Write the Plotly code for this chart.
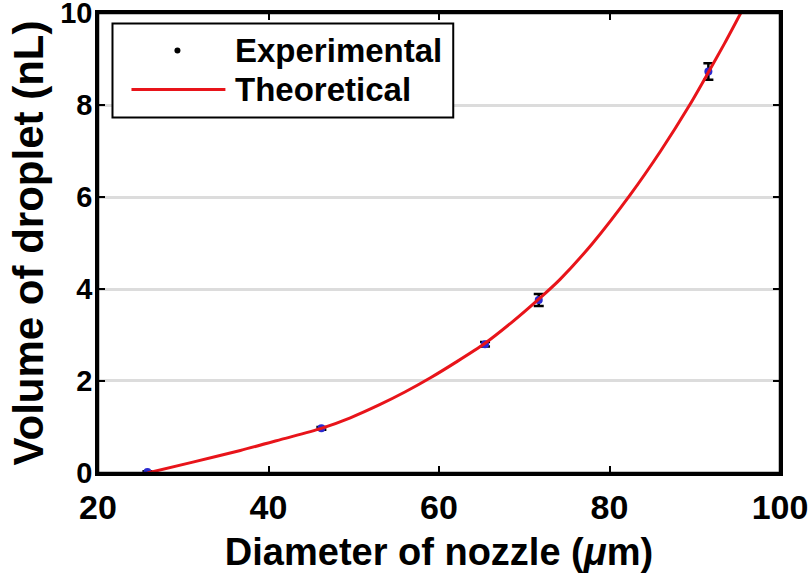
import plotly.graph_objects as go

# Experimental data
exp_d = [25.8, 46.2, 65.4, 71.7, 91.6]
exp_v = [0.02, 0.97, 2.80, 3.76, 8.73]
exp_err = [0.02, 0.03, 0.05, 0.13, 0.18]

# Theoretical curve
th_d = [25.8, 31.0, 36.7, 41.5, 46.2, 49.6, 53.1, 56.0, 59.0, 62.0, 65.4, 68.5, 71.7,
        74.2, 78.0, 82.4, 86.0, 89.4, 91.6, 93.5, 95.4]
th_v = [0.0, 0.23, 0.49, 0.73, 0.97, 1.20, 1.49, 1.76, 2.07, 2.41, 2.82, 3.27, 3.78,
        4.21, 4.99, 6.04, 7.0, 8.0, 8.71, 9.34, 10.0]

x_ticks = [20, 40, 60, 80, 100]
y_ticks = [0, 2, 4, 6, 8, 10]

FONT = "Liberation Sans, Arial, sans-serif"
W, H = 810, 581
L, R, T, B = 97.5, 30, 12.5, 108
PW, PH = W - L - R, H - T - B


def px(x):
    return (x - L) / PW


def py(y):
    return (H - B - y) / PH


fig = go.Figure()
fig.add_trace(go.Scatter(
    x=exp_d, y=exp_v, mode="markers", name="Experimental", showlegend=False,
    marker=dict(color="#2a2ad0", size=8),
    error_y=dict(type="data", array=exp_err, color="black", thickness=2.5, width=5),
))
fig.add_trace(go.Scatter(
    x=th_d, y=th_v, mode="lines", name="Theoretical", showlegend=False,
    line=dict(color="#e8141a", width=3, shape="spline", smoothing=0.8),
))

# frame
fig.add_shape(type="rect", xref="paper", yref="paper", x0=0, x1=1, y0=0, y1=1,
              line=dict(color="black", width=2.5), layer="above")

# legend drawn in paper space
fig.add_shape(type="rect", xref="paper", yref="paper",
              x0=px(112), x1=px(453), y0=py(117), y1=py(23),
              line=dict(color="black", width=2), fillcolor="white", layer="above")
fig.add_shape(type="line", xref="paper", yref="paper",
              x0=px(131), x1=px(225), y0=py(89), y1=py(89),
              line=dict(color="#e8141a", width=3), layer="above")
fig.add_shape(type="circle", xref="paper", yref="paper",
              x0=px(174), x1=px(180), y0=py(53), y1=py(47),
              line=dict(color="black", width=0), fillcolor="black", layer="above")
fig.add_annotation(text="<b>Experimental</b>", xref="paper", yref="paper",
                   x=px(233), y=py(50), xanchor="left", yanchor="middle", showarrow=False,
                   font=dict(family=FONT, size=33, color="black"))
fig.add_annotation(text="<b>Theoretical</b>", xref="paper", yref="paper",
                   x=px(233), y=py(89), xanchor="left", yanchor="middle", showarrow=False,
                   font=dict(family=FONT, size=33, color="black"))

axis_common = dict(
    showline=True, linecolor="black", linewidth=2.5, mirror="ticks",
    ticks="inside", ticklen=7, tickwidth=2, tickcolor="black",
    zeroline=False, ticklabeloverflow="allow", automargin=False,
)
fig.update_xaxes(
    range=[19.999, 100.001], tickvals=x_ticks, ticktext=[f"<b>{t}</b>" for t in x_ticks],
    showgrid=False, ticklabelstandoff=2,
    tickfont=dict(family=FONT, size=34, color="black"),
    title=dict(text="<b>Diameter of nozzle (<i>μ</i>m)</b>", font=dict(family=FONT, size=38, color="black"), standoff=14),
    **axis_common,
)
fig.update_yaxes(
    range=[-0.0005, 10.0005], tickvals=y_ticks, ticktext=[f"<b>{t}</b>" for t in y_ticks],
    showgrid=True, gridcolor="#dcdcdc", gridwidth=2.5,
    ticklabelstandoff=-3,
    tickfont=dict(family=FONT, size=29, color="black"),
    title=dict(text="<b>Volume of droplet (nL)</b>", font=dict(family=FONT, size=42, color="black"), standoff=4),
    **axis_common,
)
fig.update_layout(
    width=W, height=H,
    margin=dict(l=L, r=R, t=T, b=B, autoexpand=False),
    plot_bgcolor="white", paper_bgcolor="white",
    showlegend=False,
)
fig.write_html("out.html", config={"displayModeBar": False},
               post_script="document.body.style.margin='0';")
